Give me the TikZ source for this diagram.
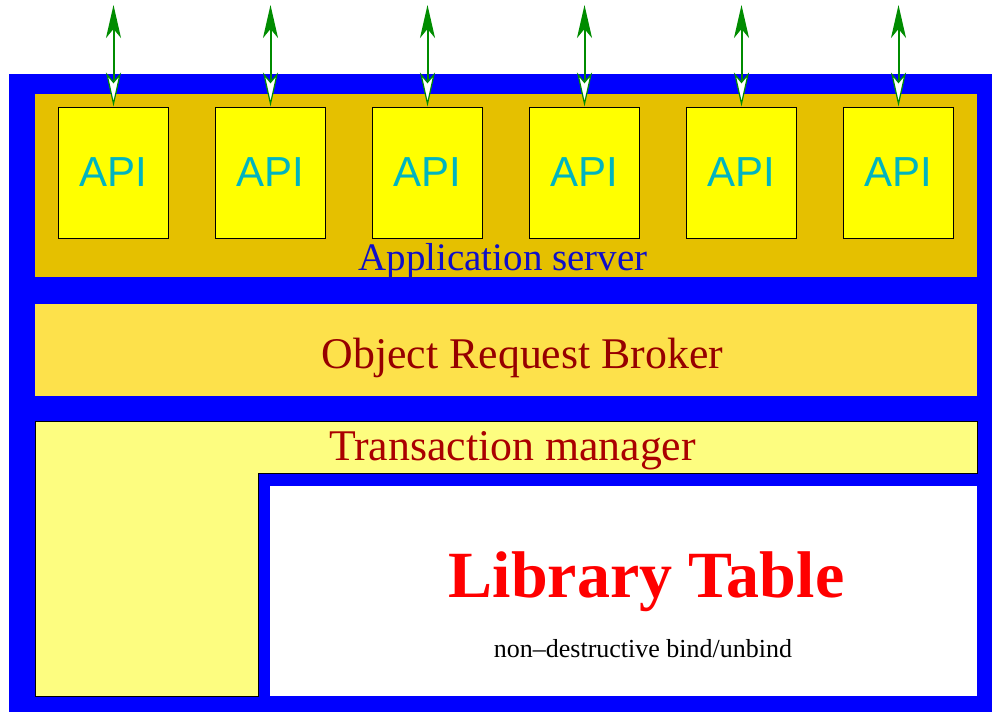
\documentclass[tikz,border=0pt]{standalone}
\usepackage{fontspec}
\setmainfont{Liberation Serif}
\newfontfamily\apifont{Liberation Sans}
\usetikzlibrary{arrows.meta}

\definecolor{frameblue}{RGB}{0,0,255}
\definecolor{appgold}{RGB}{229,192,0}
\definecolor{orbyellow}{RGB}{253,225,75}
\definecolor{tmyellow}{RGB}{253,253,128}
\definecolor{apiyellow}{RGB}{255,255,0}
\definecolor{apitext}{RGB}{0,180,192}
\definecolor{linkgreen}{RGB}{0,140,0}
\definecolor{appblue}{RGB}{15,15,200}
\definecolor{orbred}{RGB}{150,0,0}
\definecolor{tmred}{RGB}{170,0,0}

\tikzset{
  apibox/.style={draw=black, line width=1pt, fill=apiyellow,
    minimum width=110pt, minimum height=131pt, inner sep=0pt,
    font=\apifont\fontsize{42}{42}\selectfont, text=apitext},
  label/.style={inner sep=0pt, anchor=base},
  link/.style={draw=linkgreen, line width=2pt,
    {Stealth[length=33pt,width=15pt,inset=9pt,fill=linkgreen]}-{Stealth[length=34pt,width=15pt,inset=9pt,open,fill=white,line width=1.2pt]}}
}

\begin{document}
\begin{tikzpicture}[x=1pt,y=-1pt]
\useasboundingbox (0,0) rectangle (992,712);

% outer frame
\fill[frameblue] (9,74) rectangle (992,712);

% application server layer
\fill[appgold] (35,94) rectangle (977,277);
\node[label, font=\fontsize{39}{39}\selectfont, text=appblue] (appsrv) at (503,270) {Application server};

% API boxes with their links
\foreach \i/\x in {1/113.5, 2/270.5, 3/427.5, 4/584.5, 5/741.5, 6/898.5} {
  \node[apibox] (api\i) at (\x,172.5) {API};
  \coordinate (top\i) at (\x,5);
  \draw[link] (top\i) -- (api\i.north);
}

% object request broker
\fill[orbyellow] (35,304) rectangle (977,396);
\node[label, font=\fontsize{43.8}{43.8}\selectfont, text=orbred] (orb) at (522.5,368) {Object Request Broker};

% transaction manager (L-shaped)
\filldraw[fill=tmyellow, draw=black, line width=1pt]
  (35,421) -- (977,421) -- (977,473) -- (258,473) -- (258,696) -- (35,696) -- cycle;
\node[label, font=\fontsize{43.8}{43.8}\selectfont, text=tmred] (tm) at (512.5,460) {Transaction manager};

% library table
\fill[white] (270,486) rectangle (977,696);
\node[label, font=\bfseries\fontsize{66}{66}\selectfont, text=red] (lib) at (646.5,597) {Library Table};
\node[label, font=\fontsize{26}{26}\selectfont, text=black] (bind) at (643,657) {non\textendash destructive bind/unbind};
\end{tikzpicture}
\end{document}
